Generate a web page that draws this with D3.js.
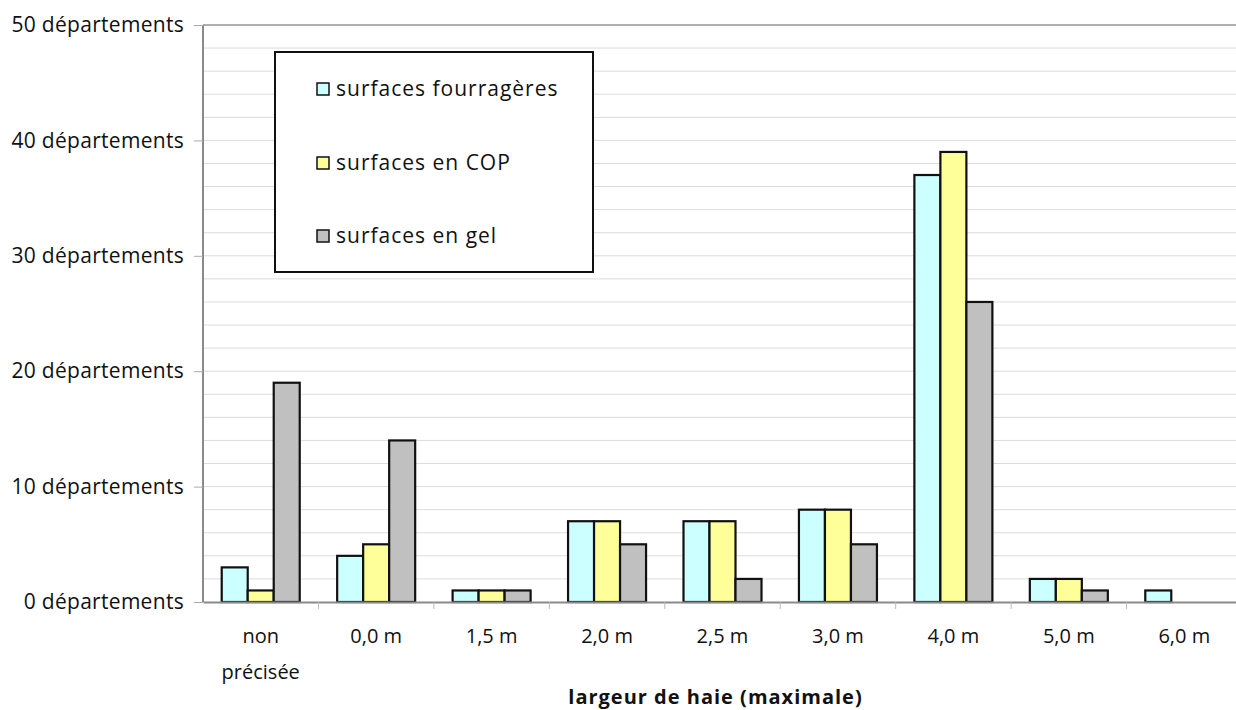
<!DOCTYPE html>
<html><head><meta charset="utf-8">
<script src="https://cdn.jsdelivr.net/npm/d3@7"></script>
<style>body{margin:0;background:#fff;}svg{display:block;font-family:"Comic Sans MS","Open Sans",sans-serif;}</style>
</head><body>
<svg id="c" width="1236" height="710"></svg>
<script>
const categories = ["non\nprécisée","0,0 m","1,5 m","2,0 m","2,5 m","3,0 m","4,0 m","5,0 m","6,0 m"];
const seriesNames = ["surfaces fourragères","surfaces en COP","surfaces en gel"];
const fourrageres = [3,4,1,7,7,8,37,2,1];
const cop = [1,5,1,7,7,8,39,2,0];
const gel = [19,14,1,5,2,5,26,1,0];
const colors = ["#CCFFFF","#FFFF99","#C0C0C0"];
const yTicks = [0,10,20,30,40,50];
const yTickLabels = ["0 départements","10 départements","20 départements","30 départements","40 départements","50 départements"];
const xTitle = "largeur de haie (maximale)";

const series = [fourrageres, cop, gel];
const svg = d3.select("#c");
const L=203, R=1242, T=25, B=602;
const x = d3.scaleBand().domain(categories).range([L,R]).paddingInner(0).paddingOuter(0);
const x1 = d3.scaleBand().domain(d3.range(3)).range([0,x.bandwidth()]).paddingInner(0).paddingOuter(0.72);
const y = d3.scaleLinear().domain([0,50]).range([B,T]);

// grid
svg.append("g").selectAll("line").data(d3.range(2,51,2)).join("line")
  .attr("x1",L).attr("x2",R).attr("y1",d=>y(d)).attr("y2",d=>y(d))
  .attr("stroke","#dcdcdc").attr("stroke-width",1);
// plot border left/top
svg.append("line").attr("x1",L).attr("x2",L).attr("y1",T).attr("y2",B).attr("stroke","#8a8a8a").attr("stroke-width",2);
svg.append("line").attr("x1",L).attr("x2",R).attr("y1",T).attr("y2",T).attr("stroke","#9a9a9a").attr("stroke-width",1.5);

// y axis
const yAxis = svg.append("g").attr("transform",`translate(${L},0)`)
  .call(d3.axisLeft(y).tickValues(yTicks).tickSize(9).tickFormat((d,i)=>yTickLabels[i]));
yAxis.select(".domain").remove();
yAxis.selectAll(".tick line").attr("stroke","#aaa");
yAxis.selectAll(".tick text").attr("font-size",21).attr("letter-spacing",0.3).attr("fill","#111").attr("x",-19)
  .style("font-family",'"Comic Sans MS","Open Sans",sans-serif');

// bars
const groups = svg.append("g").selectAll("g").data(categories).join("g")
  .attr("transform",d=>`translate(${x(d)},0)`);
groups.selectAll("rect").data((d,ci)=>series.map((s,si)=>({si,v:s[ci]}))).join("rect")
  .filter(d=>d.v>0)
  .attr("x",d=>x1(d.si)).attr("width",x1.bandwidth())
  .attr("y",d=>y(d.v)).attr("height",d=>B-y(d.v))
  .attr("fill",d=>colors[d.si]).attr("stroke","#111").attr("stroke-width",2.2);

// x axis
const xAxis = svg.append("g").attr("transform",`translate(0,${B})`)
  .call(d3.axisBottom(x).tickSize(0).tickFormat(""));
xAxis.select(".domain").attr("stroke","#8a8a8a").attr("stroke-width",2);
// category boundary ticks
svg.append("g").selectAll("line").data(categories.slice(1)).join("line")
  .attr("x1",d=>x(d)).attr("x2",d=>x(d)).attr("y1",B).attr("y2",B+7).attr("stroke","#bbb");
// category labels
const lab = svg.append("g").selectAll("text").data(categories).join("text")
  .attr("x",d=>x(d)+x.bandwidth()/2).attr("y",643).attr("text-anchor","middle")
  .attr("font-size",20).attr("fill","#111");
lab.selectAll("tspan").data(d=>d.split("\n")).join("tspan")
  .attr("x",function(){return d3.select(this.parentNode).attr("x");})
  .attr("dy",(d,i)=>i?36:0).text(d=>d);
svg.append("text").attr("x",(L+R)/2-7).attr("y",704).attr("text-anchor","middle")
  .attr("font-size",20).attr("letter-spacing",1).attr("font-weight","bold").attr("fill","#111").text(xTitle);

// legend
const lg = svg.append("g");
lg.append("rect").attr("x",275).attr("y",52).attr("width",318).attr("height",220)
  .attr("fill","#fff").attr("stroke","#111").attr("stroke-width",2);
const rowsY=[89,163,236];
seriesNames.forEach((n,i)=>{
  lg.append("rect").attr("x",317).attr("y",rowsY[i]-6).attr("width",12).attr("height",12)
    .attr("fill",colors[i]).attr("stroke","#111").attr("stroke-width",1.5);
  lg.append("text").attr("x",336).attr("y",rowsY[i]).attr("dy","0.35em")
    .attr("font-size",21).attr("letter-spacing",1).attr("fill","#111").text(n);
});
</script>
</body></html>
